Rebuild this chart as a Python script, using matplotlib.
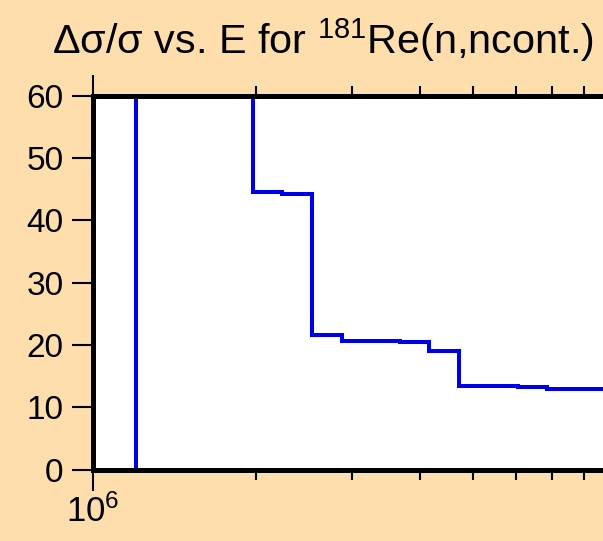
import numpy as np
import matplotlib
matplotlib.use('Agg')
import matplotlib.pyplot as plt
from matplotlib.ticker import NullFormatter, LogLocator, FixedLocator, FixedFormatter

plt.rcParams['font.family'] = ['Liberation Sans', 'DejaVu Sans']
plt.rcParams['mathtext.fontset'] = 'custom'
plt.rcParams['mathtext.rm'] = 'Liberation Sans'
plt.rcParams['mathtext.it'] = 'Liberation Sans:italic'
plt.rcParams['mathtext.bf'] = 'Liberation Sans:bold'

# Bin edges (eV) and relative uncertainty (%)
edges = [1.2e6, 1.97e6, 2.23e6, 2.53e6, 2.87e6, 3.24e6, 3.68e6,
         4.16e6, 4.73e6, 5.35e6, 6.07e6, 6.86e6, 1.0e7]
rel_unc = [60.0, 44.5, 44.3, 21.6, 20.7, 20.6, 20.5,
           19.0, 13.5, 13.4, 13.3, 13.0]
yticks = [0, 10, 20, 30, 40, 50, 60]
xticks = [1e6, 1e7]
xticklabels = ['$10^{6}$', '']  # 10^7 falls outside the cropped picture

bg = '#FFDEAD'
W, H = 603, 541
fig = plt.figure(figsize=(W / 100, H / 100), dpi=100, facecolor=bg)

# axes continues past the right edge of the picture
x0, y0 = 92.7, 469.8
decade = 543.5
xmax = 2e7
width = decade * np.log10(xmax / 1e6)
height = 469.8 - 95.7
ax = fig.add_axes([x0 / W, (H - y0) / H, width / W, height / H])
ax.set_facecolor('white')

ax.stairs(rel_unc, edges, baseline=0, color='#0000E6', linewidth=2.9, zorder=2)

ax.set_xscale('log')
ax.set_xlim(1e6, xmax)
ax.set_ylim(0, 60)
ax.set_yticks(yticks)
ax.xaxis.set_major_locator(FixedLocator(xticks))
ax.xaxis.set_major_formatter(FixedFormatter(xticklabels))
ax.xaxis.set_minor_locator(LogLocator(base=10, subs=np.arange(2, 10)))
ax.xaxis.set_minor_formatter(NullFormatter())

for side in ['left', 'top', 'bottom', 'right']:
    ax.spines[side].set_linewidth(3.6)
    ax.spines[side].set_zorder(3)

ax.tick_params(axis='both', which='both', direction='out', width=1.5, colors='black')
ax.tick_params(axis='x', which='major', length=15, top=True, pad=3, labelsize=25)
ax.tick_params(axis='x', which='minor', length=7.2, top=True)
ax.tick_params(axis='y', which='major', length=15, right=False, pad=6, labelsize=24)

fig.text(51.7 / W, (H - 53.3) / H, 'Δσ/σ vs. E for $^{181}$Re(n,ncont.)',
         fontsize=29.8, ha='left', va='baseline')

fig.savefig('out.png', dpi=100, facecolor=bg)
